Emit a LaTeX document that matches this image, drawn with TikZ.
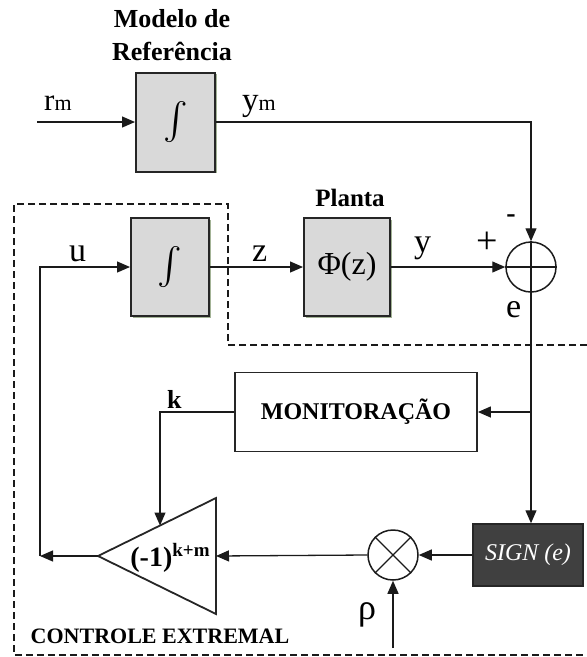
\documentclass[tikz,border=0pt]{standalone}
\usepackage{graphicx}
\usepackage{fontspec}
\setmainfont{Liberation Serif}
\usetikzlibrary{arrows.meta,shadows}
\definecolor{boxgray}{HTML}{D9D9D9}
\definecolor{signgray}{HTML}{404040}
\definecolor{lineclr}{HTML}{1A1A1A}
\definecolor{shgreen}{HTML}{A3B396}
\newcommand{\myint}{\scalebox{3.7}{$\int$}}
\begin{document}
\begin{tikzpicture}[x=1pt,y=-1pt,
  conn/.style={draw=lineclr, line width=1.3pt},
  arr/.style={conn, -{Triangle[length=13pt,width=11pt]}},
  block/.style={draw=black!85, line width=2pt, fill=boxgray, inner sep=0pt,
    drop shadow={shadow xshift=1.5pt, shadow yshift=-1.5pt, fill=shgreen, opacity=1}},
  sumnode/.style={circle, draw=lineclr, line width=1.5pt, minimum size=50, inner sep=0pt},
  lbl/.style={font=\fontsize{34}{36}\selectfont, inner sep=0pt},
  blbl/.style={font=\bfseries\fontsize{25}{27}\selectfont, inner sep=0pt},
  dashbox/.style={draw=lineclr, dash pattern=on 7pt off 4pt, line width=1.2pt}]
\useasboundingbox (0,0) rectangle (587,657);

% dashed region
\draw[dashbox] (587,345) -- (228,345) -- (228,204) -- (14,204) -- (14,655) -- (587,655);

% blocks
\node[block, minimum width=79, minimum height=99] (ref) at (175.5,122) {\myint};
\node[block, minimum width=78, minimum height=98] (int) at (170,267) {\myint};
\node[block, minimum width=86, minimum height=98, font=\fontsize{32}{34}\selectfont] (plant) at (347,267) {Φ(z)};
\node[sumnode] (sum) at (531,267) {};
\draw[conn] (sum.north) -- (sum.south) (sum.west) -- (sum.east);
\node[draw=black!85, line width=1.8pt, fill=white, minimum width=242, minimum height=79, inner sep=0pt, font=\bfseries\fontsize{24}{26}\selectfont] (mon) at (356,412) {MONITORAÇÃO};
\node[draw=black!85, line width=1.5pt, fill=signgray, text=white, minimum width=110, minimum height=62, inner sep=0pt, font=\itshape\fontsize{24}{26}\selectfont] (sign) at (528,555) {SIGN (e)};
\node[sumnode] (mult) at (393,555) {};
\draw[conn] (mult.north west) -- (mult.south east) (mult.north east) -- (mult.south west);

% triangle gain
\coordinate (triA) at (98,556);
\coordinate (triT) at (216,498);
\coordinate (triB) at (216,614);
\coordinate (triR) at (216,556);
\coordinate (triK) at (160,525.5);
\draw[draw=black!85, line width=1.8pt, line join=miter] (triA) -- (triT) -- (triB) -- cycle;
\node[inner sep=0pt, font=\bfseries\fontsize{28}{30}\selectfont] (gain) at (170,558) {(-1)\raisebox{10pt}{\fontsize{19}{20}\selectfont k+m}};

% free ends
\coordinate (rin) at (37,122);
\coordinate (rho) at (393,648);
\coordinate (fb) at (40,556);

% connectors
\draw[arr] (rin) -- (ref.west);
\draw[arr] (ref.east) -| (sum.north);
\draw[arr] (int.east) -- (plant.west);
\draw[arr] (plant.east) -- (sum.west);
\draw[arr] (sum.south) -- (sum.south |- sign.north);
\draw[arr] (sum.south |- mon.east) -- (mon.east);
\draw[arr] (mon.west) -| (triK);
\draw[arr] (sign.west) -- (mult.east);
\draw[arr] (mult.west) -- (triR);
\draw[arr] (rho) -- (mult.south);
\draw[arr] (triA) -- (fb);
\draw[arr] (fb) |- (int.west);

% labels
\node[lbl, anchor=base west] (lrm) at (44,110) {\fontsize{31}{32}\selectfont r\fontsize{22}{22}\selectfont m};
\node[lbl, anchor=base west] (lym) at (242,110) {\fontsize{33}{34}\selectfont y\fontsize{22}{22}\selectfont m};
\node[lbl, anchor=base west] (lu) at (69,261) {u};
\node[lbl, anchor=base west] (lz) at (252,261) {z};
\node[lbl, anchor=base west] (ly) at (414,252) {y};
\node[inner sep=0pt, font=\fontsize{38}{40}\selectfont] (lplus) at (487,243) {+};
\node[inner sep=0pt, font=\bfseries\fontsize{28}{30}\selectfont] (lminus) at (511,219) {-};
\node[lbl, anchor=base west] (le) at (506,317) {e};
\node[anchor=base west, inner sep=0pt, font=\bfseries\fontsize{26}{28}\selectfont] (lk) at (167,408) {k};
\node[lbl, anchor=base west, font=\fontsize{36}{38}\selectfont] (lrho) at (358,619) {ρ};
\node[anchor=base, inner sep=0pt, font=\bfseries\fontsize{26}{28}\selectfont] (lmod1) at (172,27) {Modelo de};
\node[anchor=base, inner sep=0pt, font=\bfseries\fontsize{26}{28}\selectfont] (lmod2) at (172,60) {Referência};
\node[blbl, anchor=base] (lplanta) at (350,206) {Planta};
\node[anchor=base, inner sep=0pt, font=\bfseries\fontsize{22}{24}\selectfont] (lctrl) at (160,643) {CONTROLE EXTREMAL};
\end{tikzpicture}
\end{document}
